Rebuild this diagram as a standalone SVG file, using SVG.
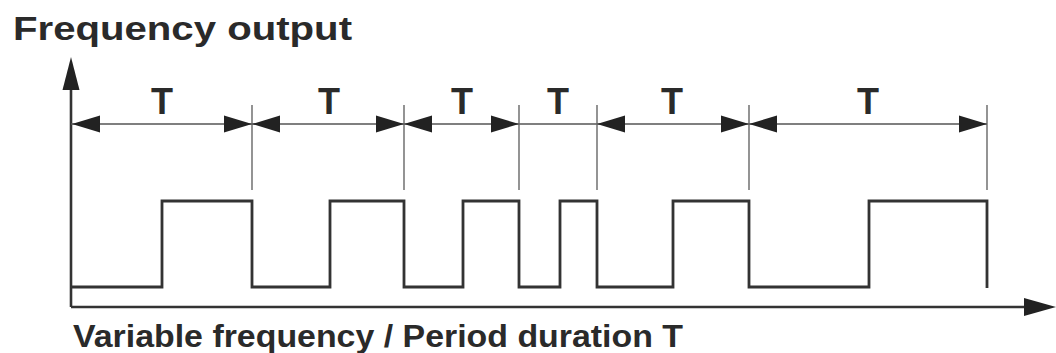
<svg xmlns="http://www.w3.org/2000/svg" width="1056" height="353" viewBox="0 0 1056 353">
<style>
.lbl{font-family:"Liberation Sans",Arial,sans-serif;font-weight:bold;fill:#2a2a2a}
.t{font-size:36px;text-anchor:middle}
.axis{stroke:#333;stroke-width:2.6;fill:none}
.wave{stroke:#333;stroke-width:2.8;fill:none;stroke-linejoin:miter}
.dim{stroke:#555;stroke-width:1.6;fill:none}
.tick{stroke:#666;stroke-width:1.4;fill:none}
.ah{fill:#222}
</style>
<defs>
<polygon id="ar" points="0,0 -28,-8.5 -28,8.5"/>
</defs>
<rect width="1056" height="353" fill="#fff"/>
<text id="title" class="lbl" x="13" y="40" font-size="34" textLength="339" lengthAdjust="spacingAndGlyphs">Frequency output</text>
<text id="xlabel" class="lbl" x="73" y="347" font-size="31" textLength="610" lengthAdjust="spacingAndGlyphs">Variable frequency / Period duration T</text>
<g id="axes">
<line class="axis" x1="71" y1="307" x2="71" y2="80"/>
<polygon class="ah" points="71,57 62.5,90 79.5,90"/>
<line class="axis" x1="71" y1="307" x2="1035" y2="307"/>
<polygon class="ah" points="1056,307 1024,298 1024,316"/>
</g>
<g id="waveform">
<path class="wave" d="M71,287 H162 V201 H252 V287 H330 V201 H404 V287 H463 V201 H519 V287 H560 V201 H597 V287 H673 V201 H749 V287 H869 V201 H987 V288"/>
</g>
<g id="connectors">
<line class="dim" x1="71" y1="124" x2="987" y2="124"/>
<line class="tick" x1="252" y1="105" x2="252" y2="190"/>
<line class="tick" x1="404" y1="105" x2="404" y2="190"/>
<line class="tick" x1="519" y1="105" x2="519" y2="190"/>
<line class="tick" x1="597" y1="105" x2="597" y2="190"/>
<line class="tick" x1="749" y1="105" x2="749" y2="190"/>
<line class="tick" x1="987" y1="105" x2="987" y2="190"/>
<use href="#ar" class="ah" transform="translate(72,124) rotate(180)"/>
<use href="#ar" class="ah" transform="translate(252,124)"/>
<use href="#ar" class="ah" transform="translate(252,124) rotate(180)"/>
<use href="#ar" class="ah" transform="translate(404,124)"/>
<use href="#ar" class="ah" transform="translate(404,124) rotate(180)"/>
<use href="#ar" class="ah" transform="translate(519,124)"/>
<use href="#ar" class="ah" transform="translate(597,124) rotate(180)"/>
<use href="#ar" class="ah" transform="translate(749,124)"/>
<use href="#ar" class="ah" transform="translate(749,124) rotate(180)"/>
<use href="#ar" class="ah" transform="translate(987,124)"/>
</g>
<g id="labels">
<text class="lbl t" x="162" y="114">T</text>
<text class="lbl t" x="329" y="114">T</text>
<text class="lbl t" x="462" y="114">T</text>
<text class="lbl t" x="558" y="114">T</text>
<text class="lbl t" x="672" y="114">T</text>
<text class="lbl t" x="868" y="114">T</text>
</g>
</svg>
